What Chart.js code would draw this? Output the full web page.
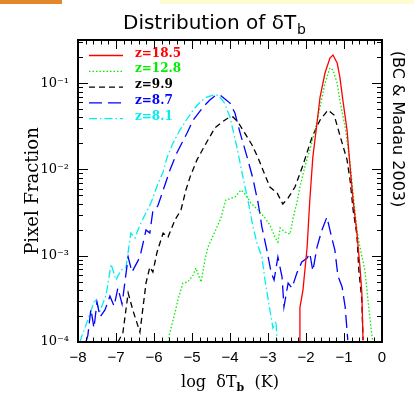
<!DOCTYPE html>
<html>
<head>
<meta charset="utf-8">
<script src="https://cdn.jsdelivr.net/npm/chart.js@4.4.0/dist/chart.umd.min.js"></script>
<style>
html, body { margin: 0; padding: 0; background: #fff; }
#wrap { position: relative; width: 414px; height: 411px; }
.bar1 { position: absolute; left: 0; top: 0; width: 62px; height: 4px; background: #e0882a; }
.bar2 { position: absolute; left: 160px; top: 0; width: 254px; height: 4px; background: #fdfbd2; }
</style>
</head>
<body>
<div id="wrap">
<canvas id="chart" width="414" height="411"></canvas>
<div class="bar1"></div><div class="bar2"></div>
</div>
<script>
// Pixel fraction histograms of log dTb

const labels = ['z=18.5', 'z=12.8', 'z=9.9', 'z=8.7', 'z=8.1'];

const logT_185 = [-2.17, -2.16, -2.08, -1.97, -1.90, -1.82, -1.71, -1.63, -1.50, -1.37, -1.29, -1.18, -1.11, -1.03, -0.92, -0.84, -0.76, -0.66, -0.58, -0.53, -0.50];
const frac_185 = [1e-4, 2.5e-4, 4.0e-4, 1.26e-3, 4.4e-3, 0.0139, 0.0345, 0.069, 0.131, 0.195, 0.212, 0.171, 0.118, 0.0637, 0.0286, 0.0107, 4.4e-3, 1.83e-3, 7.4e-4, 3.7e-4, 1.05e-4];

const logT_128 = [-5.61, -5.60, -5.45, -5.37, -5.24, -5.11, -4.97, -4.90, -4.76, -4.66, -4.58, -4.40, -4.24, -4.11, -3.87, -3.71, -3.58, -3.45, -3.26, -3.08, -2.95, -2.82, -2.74, -2.68, -2.55, -2.42, -2.34, -2.24, -2.16, -2.03, -1.90, -1.76, -1.63, -1.50, -1.37, -1.29, -1.18, -1.11, -0.97, -0.84, -0.76, -0.66, -0.58, -0.45, -0.37, -0.32, -0.26, -0.24];
const frac_128 = [1e-4, 1.2e-4, 2.17e-4, 3.07e-4, 4.83e-4, 4.96e-4, 5.97e-4, 7.2e-4, 4.96e-4, 8.9e-4, 1.26e-3, 1.88e-3, 2.74e-3, 4.42e-3, 4.79e-3, 5.77e-3, 5.05e-3, 4.08e-3, 3.39e-3, 2.74e-3, 2.27e-3, 1.65e-3, 1.44e-3, 2.1e-3, 1.88e-3, 1.78e-3, 2.74e-3, 4.08e-3, 6.25e-3, 0.0107, 0.0168, 0.0286, 0.0528, 0.1, 0.15, 0.142, 0.1, 0.0637, 0.031, 0.0119, 5.3e-3, 1.99e-3, 1.26e-3, 6.8e-4, 3.07e-4, 1.95e-4, 1.14e-4, 1e-4];

const logT_99 = [-6.95, -6.82, -6.68, -6.55, -6.37, -6.21, -6.11, -6.03, -5.92, -5.76, -5.63, -5.45, -5.29, -5.16, -5.05, -4.87, -4.61, -4.40, -4.21, -4.05, -3.92, -3.79, -3.61, -3.42, -3.26, -3.11, -2.95, -2.76, -2.61, -2.47, -2.29, -2.08, -1.84, -1.63, -1.42, -1.26, -1.11, -0.92, -0.84, -0.76, -0.66, -0.61, -0.53, -0.50];
const frac_99 = [1e-4, 1.27e-4, 3.7e-4, 2.29e-4, 1.3e-4, 4.83e-4, 7.4e-4, 6.47e-4, 1.1e-3, 1.83e-3, 1.65e-3, 2.59e-3, 3.39e-3, 5.77e-3, 8.2e-3, 0.0129, 0.0208, 0.0302, 0.0354, 0.0394, 0.0405, 0.0354, 0.0264, 0.0192, 0.0136, 9.3e-3, 6.25e-3, 5.33e-3, 3.97e-3, 4.67e-3, 6.25e-3, 0.0112, 0.0237, 0.0373, 0.0488, 0.0427, 0.025, 0.0129, 7.5e-3, 3.39e-3, 1.74e-3, 6.8e-4, 3.07e-4, 1.05e-4];

const logT_87 = [-7.79, -7.74, -7.66, -7.58, -7.50, -7.42, -7.29, -7.16, -7.05, -6.95, -6.84, -6.68, -6.58, -6.37, -6.21, -6.11, -6.03, -5.90, -5.74, -5.58, -5.40, -5.13, -4.97, -4.71, -4.53, -4.40, -4.26, -4.00, -3.87, -3.74, -3.55, -3.40, -3.26, -3.16, -3.03, -2.92, -2.84, -2.74, -2.63, -2.58, -2.47, -2.37, -2.24, -2.11, -1.97, -1.90, -1.82, -1.71, -1.58, -1.45, -1.32, -1.24, -1.16, -1.05, -0.97, -0.90];
const frac_87 = [1e-4, 1.2e-4, 2.41e-4, 1.45e-4, 2.9e-4, 1.95e-4, 2.35e-4, 3.41e-4, 2.61e-4, 4.23e-4, 2.75e-4, 9.66e-4, 6.47e-4, 9.66e-4, 1.99e-3, 1.83e-3, 3.3e-3, 3.77e-3, 6.08e-3, 9.84e-3, 0.0155, 0.0264, 0.0373, 0.0528, 0.0637, 0.0708, 0.0728, 0.0587, 0.045, 0.0271, 0.0139, 7.94e-3, 4.08e-3, 2.15e-3, 1.16e-3, 6.47e-4, 5.23e-4, 9.66e-4, 5.66e-4, 2.55e-4, 4.83e-4, 4.23e-4, 6.31e-4, 8.45e-4, 9.4e-4, 1.07e-3, 6.65e-4, 1.26e-3, 1.99e-3, 2.8e-3, 1.6e-3, 1.16e-3, 5.82e-4, 4.34e-4, 2.55e-4, 1.05e-4];

const logT_81 = [-7.95, -7.90, -7.79, -7.68, -7.55, -7.42, -7.26, -7.13, -7.00, -6.87, -6.74, -6.61, -6.50, -6.37, -6.24, -6.08, -5.90, -5.76, -5.66, -5.50, -5.32, -5.13, -4.97, -4.79, -4.61, -4.45, -4.32, -4.16, -4.00, -3.82, -3.66, -3.53, -3.40, -3.29, -3.16, -3.08, -2.95, -2.87, -2.79, -2.76];
const frac_81 = [1e-4, 1.17e-4, 1.57e-4, 2.17e-4, 3.15e-4, 2.29e-4, 3.5e-4, 8.0e-4, 5.23e-4, 6.82e-4, 7.2e-4, 1.83e-3, 1.6e-3, 2.27e-3, 2.97e-3, 4.08e-3, 6.78e-3, 9.34e-3, 0.0136, 0.0202, 0.0286, 0.0384, 0.0488, 0.0604, 0.069, 0.0728, 0.0728, 0.0604, 0.0405, 0.0182, 8.17e-3, 4.42e-3, 2.21e-3, 1.4e-3, 9.66e-4, 5.23e-4, 2.35e-4, 1.45e-4, 1.75e-4, 1e-4];

const xTicks = [-8, -7, -6, -5, -4, -3, -2, -1, 0];
const yTicks = [1e-4, 1e-3, 1e-2, 1e-1];
const yTickLabels = ['10\u207B\u2074', '10\u207B\u00B3', '10\u207B\u00B2', '10\u207B\u00B9'];

const colors = ['#ff0000', '#00ee00', '#000000', '#0000ff', '#00eeee'];
const dashes = [[], [1.5, 2], [6, 4], [13, 6], [8, 3, 1.5, 3]];

function pts(xs, ys) {
	return xs.map((x, i) => ({ x: x, y: ys[i] }));
}

const series = [
	pts(logT_185, frac_185),
	pts(logT_128, frac_128),
	pts(logT_99, frac_99),
	pts(logT_87, frac_87),
	pts(logT_81, frac_81)
];

// draw the box with inward ticks on all four sides
const framePlugin = {
	id: 'frame',
	afterDatasetsDraw(chart) {
		let ctx = chart.ctx;
		let a = chart.chartArea;
		let xs = chart.scales.x, ys = chart.scales.y;
		ctx.save();
		ctx.strokeStyle = '#000';
		ctx.lineWidth = 1;
		ctx.beginPath();
		for (let v = -8; v <= 0.001; v += 0.2) {
			let px = Math.round(xs.getPixelForValue(v)) + 0.5;
			let major = Math.abs(v - Math.round(v)) < 0.01;
			let len = major ? 9 : 4.5;
			ctx.moveTo(px, a.bottom); ctx.lineTo(px, a.bottom - len);
			ctx.moveTo(px, a.top); ctx.lineTo(px, a.top + len);
		}
		for (let e = -4; e <= -1; e++) {
			for (let m = 1; m <= 9; m++) {
				let v = m * Math.pow(10, e);
				if (v > ys.max) break;
				let py = Math.round(ys.getPixelForValue(v)) + 0.5;
				let len = m === 1 ? 10 : 5;
				ctx.moveTo(a.left, py); ctx.lineTo(a.left + len, py);
				ctx.moveTo(a.right, py); ctx.lineTo(a.right - len, py);
			}
		}
		ctx.stroke();
		ctx.lineWidth = 2;
		ctx.strokeRect(a.left, a.top, a.right - a.left, a.bottom - a.top);
		ctx.restore();
	}
};

// legend in the top left corner of the plot
const legendPlugin = {
	id: 'cornerLegend',
	afterDatasetsDraw(chart) {
		let ctx = chart.ctx;
		ctx.save();
		ctx.font = 'bold 12px "DejaVu Serif"';
		ctx.textBaseline = 'middle';
		labels.forEach((lab, i) => {
			let ly = 55.5 + i * 15.8;
			ctx.strokeStyle = colors[i];
			ctx.lineWidth = 1.3;
			ctx.setLineDash(dashes[i]);
			ctx.beginPath();
			ctx.moveTo(89, ly); ctx.lineTo(123, ly);
			ctx.stroke();
			ctx.fillStyle = colors[i];
			ctx.fillText(lab, 135, ly - 2);
		});
		ctx.restore();
	}
};

// title, axis titles and the side note
const textPlugin = {
	id: 'texts',
	afterDraw(chart) {
		let ctx = chart.ctx;
		ctx.save();
		ctx.fillStyle = '#000';
		ctx.textBaseline = 'alphabetic';

		ctx.font = '20px "DejaVu Sans"';
		let t = 'Distribution of \u03B4T';
		let w = ctx.measureText(t).width;
		ctx.font = '14px "DejaVu Sans"';
		let wb = ctx.measureText('b').width;
		let x0 = 214 - (w + wb) / 2;
		ctx.font = '20px "DejaVu Sans"';
		ctx.fillText(t, x0, 29);
		ctx.font = '14px "DejaVu Sans"';
		ctx.fillText('b', x0 + w + 1, 34);

		ctx.font = '16px "DejaVu Serif"';
		let p1 = 'log  \u03B4T', p2 = '  (K)';
		let w1 = ctx.measureText(p1).width, w2 = ctx.measureText(p2).width;
		ctx.font = 'bold 11px "DejaVu Serif"';
		let w3 = ctx.measureText('b').width;
		let lx = 230 - (w1 + w2 + w3) / 2;
		ctx.font = '16px "DejaVu Serif"';
		ctx.fillText(p1, lx, 387);
		ctx.fillText(p2, lx + w1 + w3, 387);
		ctx.font = 'bold 11px "DejaVu Serif"';
		ctx.fillText('b', lx + w1, 391);

		ctx.save();
		ctx.translate(33, 191);
		ctx.rotate(-Math.PI / 2);
		ctx.font = '18px "DejaVu Serif"';
		ctx.textAlign = 'center';
		ctx.textBaseline = 'middle';
		ctx.fillText('Pixel Fraction', 0, 0);
		ctx.restore();

		ctx.save();
		ctx.translate(397, 129);
		ctx.rotate(Math.PI / 2);
		ctx.font = '16px "DejaVu Sans"';
		ctx.textAlign = 'center';
		ctx.textBaseline = 'middle';
		ctx.fillText('(BC & Madau 2003)', 0, 0);
		ctx.restore();

		ctx.restore();
	}
};

document.addEventListener('DOMContentLoaded', () => {
	let ctx = document.querySelector('#chart').getContext('2d');
	new Chart(ctx, {
		type: 'line',
		data: {
			datasets: series.map((d, i) => ({
				label: labels[i],
				data: d,
				borderColor: colors[i],
				borderWidth: 1.3,
				borderDash: dashes[i],
				pointRadius: 0,
				fill: false,
				tension: 0
			}))
		},
		options: {
			responsive: false,
			animation: false,
			devicePixelRatio: 1,
			layout: { padding: { top: 40, right: 32, left: 0, bottom: 0 } },
			plugins: { legend: { display: false }, title: { display: false }, tooltip: { enabled: false } },
			scales: {
				x: {
					type: 'linear',
					min: -8,
					max: 0,
					afterBuildTicks: s => { s.ticks = xTicks.map(v => ({ value: v })); },
					afterFit: s => { s.height = 69; },
					grid: { display: false, drawTicks: false },
					border: { display: false },
					ticks: {
						padding: 7,
						color: '#000',
						font: { family: '"Liberation Sans"', size: 15 },
						callback: v => (v < 0 ? '\u2212' + Math.abs(v) : String(v))
					}
				},
				y: {
					type: 'logarithmic',
					min: 1e-4,
					max: Math.pow(10, -0.5),
					afterBuildTicks: s => { s.ticks = yTicks.map(v => ({ value: v })); },
					afterFit: s => { s.width = 78; },
					grid: { display: false, drawTicks: false },
					border: { display: false },
					ticks: {
						padding: 9,
						color: '#000',
						font: { family: '"DejaVu Serif"', size: 13 },
						callback: (v, i) => yTickLabels[i]
					}
				}
			}
		},
		plugins: [framePlugin, legendPlugin, textPlugin]
	});
});
</script>
</body>
</html>
